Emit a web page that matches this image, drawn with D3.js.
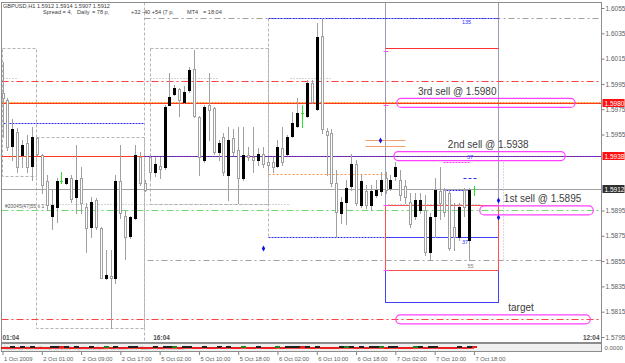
<!DOCTYPE html>
<html>
<head>
<meta charset="utf-8">
<script src="https://cdn.jsdelivr.net/npm/d3@7/dist/d3.min.js"></script>
<style>
  body { margin: 0; background: #fff; }
  svg { display: block; font-family: "Liberation Sans", Arial, sans-serif; }
</style>
</head>
<body>
<div id="chart"></div>
<script>
// ---- candle data, GBPUSD H1, bar 0 = 1 Oct, bar 96 = 7 Oct 18:00 ----
const openP  = [1.5988,1.5982,1.5946,1.5957,1.5939,1.5948,1.5930,1.5952,1.5939,1.5918,
                1.5891,1.5898,1.5918,1.5917,1.5921,1.5906,1.5921,1.5898,1.5882,1.5903,
                1.5881,1.5842,1.5843,1.5842,1.5918,1.5891,1.5875,1.5889,1.5937,1.5917,
                1.5937,1.5925,1.5930,1.5929,1.5978,1.5987,1.5991,1.5981,1.5990,1.6007,
                1.5969,1.5935,1.5978,1.5976,1.5941,1.5953,1.5923,1.5952,1.5943,1.5921,
                1.5939,1.5937,1.5935,1.5940,1.5933,1.5933,1.5930,1.5944,1.5940,1.5954,
                1.5962,1.5972,1.5970,1.5996,1.5975,1.6033,1.5958,1.5956,1.5917,1.5893,
                1.5902,1.5914,1.5932,1.5899,1.5910,1.5899,1.5907,1.5910,1.5921,1.5913,
                1.5922,1.5919,1.5914,1.5902,1.5891,1.5895,1.5895,1.5862,1.5891,1.5910,
                1.5911,1.5909,1.5882,1.5874,1.5911,1.5872,1.5912];
const highP  = [1.6012,1.5984,1.5967,1.5960,1.5951,1.5955,1.5961,1.5953,1.5940,1.5923,
                1.5911,1.5921,1.5925,1.5921,1.5923,1.5947,1.5929,1.5901,1.5906,1.5905,
                1.5882,1.5864,1.5864,1.5923,1.5947,1.5895,1.5891,1.5947,1.5941,1.5919,
                1.5939,1.5937,1.5937,1.5978,1.6004,1.5994,1.5992,1.5993,1.6008,1.6022,
                1.5970,1.5978,1.6004,1.5977,1.5951,1.5956,1.5961,1.5959,1.5961,1.5961,
                1.5945,1.5961,1.5944,1.5945,1.5937,1.5937,1.5951,1.5961,1.5955,1.5973,
                1.5984,1.5978,1.5998,1.5998,1.6043,1.6047,1.5960,1.5959,1.5927,1.5906,
                1.5919,1.5940,1.5935,1.5923,1.5915,1.5915,1.5919,1.5925,1.5925,1.5923,
                1.5933,1.5927,1.5919,1.5909,1.5909,1.5909,1.5907,1.5893,1.5921,1.5929,
                1.5913,1.5911,1.5901,1.5901,1.5913,1.5913,1.5914];
const lowP   = [1.5953,1.5943,1.5935,1.5925,1.5929,1.5925,1.5919,1.5939,1.5909,1.5895,
                1.5880,1.5886,1.5917,1.5916,1.5902,1.5893,1.5893,1.5862,1.5874,1.5880,
                1.5842,1.5841,1.5802,1.5838,1.5889,1.5857,1.5873,1.5888,1.5915,1.5910,
                1.5921,1.5922,1.5921,1.5928,1.5978,1.5986,1.5970,1.5980,1.5989,1.5969,
                1.5923,1.5933,1.5951,1.5940,1.5935,1.5923,1.5903,1.5939,1.5901,1.5919,
                1.5935,1.5925,1.5931,1.5929,1.5927,1.5925,1.5929,1.5931,1.5939,1.5953,
                1.5961,1.5961,1.5969,1.5980,1.5974,1.5956,1.5923,1.5914,1.5874,1.5885,
                1.5884,1.5911,1.5899,1.5898,1.5897,1.5895,1.5906,1.5907,1.5909,1.5911,
                1.5919,1.5903,1.5901,1.5882,1.5888,1.5893,1.5860,1.5857,1.5874,1.5888,
                1.5891,1.5864,1.5864,1.5872,1.5891,1.5856,1.5907];
const closeP = [1.5984,1.5945,1.5959,1.5929,1.5947,1.5929,1.5953,1.5940,1.5915,1.5899,
                1.5899,1.5918,1.5918,1.5921,1.5904,1.5919,1.5901,1.5881,1.5902,1.5882,
                1.5842,1.5844,1.5842,1.5918,1.5893,1.5874,1.5890,1.5939,1.5917,1.5911,
                1.5925,1.5932,1.5928,1.5977,1.5985,1.5992,1.5982,1.5989,1.6006,1.5970,
                1.5937,1.5977,1.5974,1.5941,1.5948,1.5925,1.5951,1.5941,1.5921,1.5939,
                1.5937,1.5935,1.5940,1.5932,1.5931,1.5929,1.5945,1.5933,1.5953,1.5964,
                1.5972,1.5972,1.5996,1.5981,1.6032,1.5959,1.5955,1.5917,1.5894,1.5902,
                1.5913,1.5932,1.5901,1.5918,1.5899,1.5910,1.5911,1.5919,1.5911,1.5919,
                1.5929,1.5907,1.5906,1.5884,1.5903,1.5903,1.5862,1.5890,1.5911,1.5901,
                1.5894,1.5865,1.5874,1.5898,1.5898,1.5911,1.5912];

// ---- axis labels (1.5935 and 1.5915 sit under the price tags) ----
const priceTicks = [1.6055,1.6035,1.6015,1.5995,1.5975,1.5955,1.5895,1.5875,1.5855,1.5835,1.5815,1.5795];
const timeBars   = [0,8,16,24,32,40,48,56,64,72,80,88,96];
const timeLabels = ["1 Oct 2009","2 Oct 01:00","2 Oct 09:00","2 Oct 17:00","5 Oct 02:00","5 Oct 10:00",
                    "5 Oct 18:00","6 Oct 02:00","6 Oct 10:00","6 Oct 18:00","7 Oct 02:00","7 Oct 10:00","7 Oct 18:00"];

// ---- horizontal levels across the whole chart ----
const redDashDotLevels   = [1.5997, 1.5809];
const redSolidLevels     = [1.5980, 1.5938];
const orangeDotLevels    = [1.5981];
const greenDashDotLevels = [1.5895];
const bidLevel           = 1.5912;

// ---- partial levels: [price, from bar, to bar] ----
const grayDashDotSegs = [[1.6047, 28.8, 122], [1.5856, 29.4, 122]];
const blueDotSegs     = [[1.6047, 54.1, 100.9], [1.5964, 0, 28.8], [1.5938, 28.8, 122],
                         [1.5874, 54.1, 77.9], [1.5911, 89.7, 95.2]];
const blueDashSegs    = [[1.5921, 93.8, 96.7]];
const pinkDotSegs     = [[1.5933, 89.7, 95.2]];
const orangeDotSegs   = [[1.5924, 54.1, 77.9]];
const grayDotSegs     = [[1.5900, 0.5, 58.5], [1.5900, 78.5, 97], [1.6000, 0, 3],
                         [1.6000, 30, 43.7], [1.6000, 58.5, 66.7]];
const redSegs         = [[1.6023, 77.9, 100.9]];
const orangeSegs      = [[1.5951, 73.8, 82], [1.5946, 73.8, 82]];

// ---- session boxes: [from bar, to bar, high, low] ----
const dayBoxes = [[-0.1, 6.8, 1.6023, 1.5922], [6.8, 28.8, 1.5953, 1.5802], [30.0, 54.1, 1.6023, 1.5900]];
const redBox   = [77.9, 100.9, 1.5899, 1.5848];
const blueBox  = [77.9, 100.9, 1.5874, 1.5823];
const sessionLines = [28.8];
const rangeLines   = [77.9, 100.9];

// ---- order notes: [text, price, from bar, to bar, text bar] ----
const orderNotes = [
  ["3rd sell @ 1.5980", 1.5980, 80.3, 116.6, 84.6],
  ["2nd sell @ 1.5938", 1.5938, 79.7, 114.6, 90.7],
  ["1st sell @ 1.5895", 1.5895, 97.2, 120.3, 102.1],
  ["target",            1.5809, 80.1, 119.7, 103.0]
];
const diamonds  = [[53.1, 1.5865], [76.9, 1.5951], [100.9, 1.5903], [100.9, 1.5890]];
const pinkTicks = [1.6021, 1.5978, 1.5899, 1.5848];
const smallTags = [["135", 94.5, 1.6044, "#3030ff"], ["37", 95.2, 1.5937, "#3030ff"],
                   ["37", 94.2, 1.5870, "#3030ff"], ["55", 95.3, 1.5851, "#808080"]];

const W = 625, H = 363;
const plot = {left: 1.5, right: 601.5, top: 2.5, bottom: 342.5};

const svg = d3.select("#chart").append("svg").attr("width", W).attr("height", H);

const x = d3.scaleLinear().domain([0, 96]).range([2.5, 473.9]);
const y = d3.scaleLinear().domain([1.5795, 1.6055]).range([337, 8]);
const px = v => Math.round(x(v)) + 0.5;
const py = v => Math.round(y(v)) + 0.5;

const levels = svg.append("g");

function hline(price, x1, x2, color, dash, w) {
  levels.append("line")
    .attr("x1", x1).attr("x2", x2)
    .attr("y1", py(price)).attr("y2", py(price))
    .attr("stroke", color).attr("stroke-width", w || 1)
    .attr("stroke-dasharray", dash || null);
}

// session boxes (gray dashed)
dayBoxes.forEach(b => {
  levels.append("rect")
    .attr("x", px(b[0])).attr("y", py(b[2]))
    .attr("width", px(b[1]) - px(b[0])).attr("height", py(b[3]) - py(b[2]))
    .attr("fill", "none").attr("stroke", "#b4b4b4").attr("stroke-dasharray", "3,2");
});
sessionLines.forEach(b => {
  levels.append("line").attr("x1", px(b)).attr("x2", px(b))
    .attr("y1", plot.top).attr("y2", plot.bottom)
    .attr("stroke", "#b4b4b4").attr("stroke-dasharray", "3,2");
});
// 6 Oct box side, 7 Oct range side
levels.append("line").attr("x1", px(54.1)).attr("x2", px(54.1))
  .attr("y1", py(1.6047)).attr("y2", py(1.5874)).attr("stroke", "#b4b4b4").attr("stroke-dasharray", "3,2");
levels.append("line").attr("x1", px(101.9)).attr("x2", px(101.9))
  .attr("y1", py(1.5933)).attr("y2", py(1.5856)).attr("stroke", "#b4b4b4").attr("stroke-dasharray", "1,2");

// range lines of 7 Oct
rangeLines.forEach(b => {
  levels.append("line").attr("x1", px(b)).attr("x2", px(b))
    .attr("y1", plot.top).attr("y2", py(blueBox[3]))
    .attr("stroke", "#9c9cb0");
});

grayDotSegs.forEach(s => hline(s[0], px(s[1]), px(s[2]), "#a8a8a8", "1,2"));
grayDashDotSegs.forEach(s => hline(s[0], px(s[1]), Math.min(px(s[2]), plot.right), "#a0a0a0", "6,3,2,3"));
redDashDotLevels.forEach(p => hline(p, plot.left, plot.right, "#ff4040", "7,3,2,3"));
orangeDotLevels.forEach(p => hline(p, plot.left, plot.right, "#ff9020", "2,1"));
redSolidLevels.forEach(p => hline(p, plot.left, plot.right, "#ff3a20"));
greenDashDotLevels.forEach(p => hline(p, plot.left, plot.right, "#70d870", "7,3,2,3"));
hline(bidLevel, plot.left, plot.right, "#a0a0a8");
blueDotSegs.forEach(s => hline(s[0], px(s[1]), Math.min(px(s[2]), plot.right), "#2828ff", "2,1"));
blueDashSegs.forEach(s => hline(s[0], px(s[1]), px(s[2]), "#2828ff", "3,2"));
pinkDotSegs.forEach(s => hline(s[0], px(s[1]), px(s[2]), "#ff40ff", "2,1"));
orangeDotSegs.forEach(s => hline(s[0], px(s[1]), px(s[2]), "#ff9040", "2,2"));
redSegs.forEach(s => hline(s[0], px(s[1]), px(s[2]), "#ff3030"));
orangeSegs.forEach(s => hline(s[0], px(s[1]), px(s[2]), "#f0a070"));

// red and blue target boxes
[[blueBox, "#4040ff"], [redBox, "#ff5050"]].forEach(([b, c]) => {
  levels.append("rect")
    .attr("x", px(b[0])).attr("y", py(b[2]))
    .attr("width", px(b[1]) - px(b[0])).attr("height", py(b[3]) - py(b[2]))
    .attr("fill", "none").attr("stroke", c);
});

// ---- candles ----
const bars = openP.map((o, i) => ({i, o, h: highP[i], l: lowP[i], c: closeP[i]}));
const cg = svg.append("g");
cg.selectAll(".wick").data(bars).enter().append("line")
  .attr("x1", d => px(d.i)).attr("x2", d => px(d.i))
  .attr("y1", d => Math.round(y(d.h))).attr("y2", d => Math.round(y(d.l)) + 1)
  .attr("stroke", d => d.o === d.c ? "#30e030" : "#a0a0a0");

cg.selectAll(".body").data(bars.filter(d => d.o !== d.c)).enter().append("rect")
  .attr("x", d => d.c > d.o ? Math.round(x(d.i)) - 1 : Math.round(x(d.i)) - 0.5)
  .attr("y", d => d.c > d.o ? Math.round(y(Math.max(d.o, d.c))) : Math.round(y(Math.max(d.o, d.c))) + 0.5)
  .attr("width", d => d.c > d.o ? 3 : 2)
  .attr("height", d => {
    const hgt = Math.round(y(Math.min(d.o, d.c))) - Math.round(y(Math.max(d.o, d.c)));
    return d.c > d.o ? Math.max(1, hgt + 1) : Math.max(1, hgt);
  })
  .attr("fill", d => d.c > d.o ? "#000" : "#fff")
  .attr("stroke", d => d.c > d.o ? "none" : "#a0a0a0");

cg.selectAll(".doji").data(bars.filter(d => d.o === d.c)).enter().append("line")
  .attr("x1", d => Math.round(x(d.i)) - 1).attr("x2", d => Math.round(x(d.i)) + 2)
  .attr("y1", d => py(d.o)).attr("y2", d => py(d.o))
  .attr("stroke", "#30e030");

// ---- markers ----
const mg = svg.append("g");
mg.selectAll("path").data(diamonds).enter().append("path")
  .attr("transform", d => `translate(${px(d[0])},${py(d[1])})`)
  .attr("d", d3.symbol().type(d3.symbolDiamond).size(10))
  .attr("fill", "#1010e0");
mg.selectAll(".pt").data(pinkTicks).enter().append("line")
  .attr("x1", px(77.9) - 2).attr("x2", px(77.9) + 3)
  .attr("y1", d => py(d)).attr("y2", d => py(d))
  .attr("stroke", "#ff50ff");
mg.selectAll("text").data(smallTags).enter().append("text")
  .attr("x", d => x(d[1])).attr("y", d => y(d[2]) + 2)
  .attr("font-size", 5.5).attr("fill", d => d[3]).attr("text-anchor", "middle")
  .text(d => d[0]);

// order notes
const ng = svg.append("g");
orderNotes.forEach(n => {
  const cy = y(n[1]);
  ng.append("rect")
    .attr("x", x(n[2])).attr("y", cy - 4.5)
    .attr("width", x(n[3]) - x(n[2])).attr("height", 9)
    .attr("rx", 4.5).attr("ry", 4.5)
    .attr("fill", "none").attr("stroke", "#ff40ff").attr("stroke-width", 1.2);
  ng.append("text")
    .attr("x", x(n[4])).attr("y", cy - 8)
    .attr("font-size", 10).attr("fill", "#404040")
    .text(n[0]);
});

ng.append("text").attr("x", 5).attr("y", y(1.5897))
  .attr("font-size", 5).attr("fill", "#606060").text("#20045(47)55 s 1");

// ---- frame and sub window ----
svg.append("rect").attr("x", plot.left).attr("y", plot.top)
  .attr("width", plot.right - plot.left).attr("height", plot.bottom - plot.top)
  .attr("fill", "none").attr("stroke", "#8c8c8c");
const sub = svg.append("g");
sub.append("rect").attr("x", plot.left).attr("y", 343.5)
  .attr("width", plot.right - plot.left).attr("height", 8)
  .attr("fill", "#efefef").attr("stroke", "#8c8c8c");
sub.append("text").attr("x", 4).attr("y", 349.5).attr("font-size", 5).attr("fill", "#b8b8b8")
  .text("Made by: ForexTrend (c) 2009  http://www.forex-tsd.com   MTF Bars Trend indicator");
sub.selectAll(".ib").data(bars).enter().append("rect")
  .attr("x", d => Math.round(x(d.i)) - 2).attr("y", d => d.c >= d.o ? 346 : 347)
  .attr("width", 5).attr("height", 2)
  .attr("fill", d => d.c > d.o ? (d.i % 7 === 0 ? "#208020" : "#202020") : "#e02020");
sub.append("line").attr("x1", plot.left).attr("x2", x(96)).attr("y1", 348.5).attr("y2", 348.5)
  .attr("stroke", "#ff2020").attr("stroke-width", 0.8);

// ---- price axis ----
const yAxis = svg.append("g").attr("transform", `translate(${plot.right},0)`)
  .call(d3.axisRight(y).tickValues(priceTicks).tickFormat(d3.format(".4f")).tickSize(3));
yAxis.select(".domain").remove();
yAxis.selectAll("line").attr("stroke", "#808080");
yAxis.selectAll("text").attr("font-size", 6.5).attr("fill", "#606060").attr("x", 4)
  .attr("font-family", "'Liberation Sans', Arial, sans-serif");

// price tags
const tags = [[1.5980, "#ff1010", "#fff"], [1.5938, "#ff1010", "#fff"], [bidLevel, "#303030", "#fff"]];
tags.forEach(t => {
  const cy = Math.round(y(t[0]));
  svg.append("rect").attr("x", plot.right + 1).attr("y", cy - 4).attr("width", 22).attr("height", 8).attr("fill", t[1]);
  svg.append("text").attr("x", plot.right + 3).attr("y", cy + 2.5)
    .attr("font-size", 6.5).attr("fill", t[2]).text(d3.format(".4f")(t[0]));
});

// sub window scale text
svg.append("text").attr("x", plot.right + 3).attr("y", 349.5).attr("font-size", 6).attr("fill", "#606060").text("0.0000");

// ---- time axis ----
const xAxis = svg.append("g").attr("transform", "translate(0,352)")
  .call(d3.axisBottom(x).tickValues(timeBars).tickFormat((d, i) => timeLabels[i]).tickSize(3));
xAxis.select(".domain").remove();
xAxis.selectAll("line").attr("stroke", "#808080");
xAxis.selectAll("text").attr("font-size", 5.8).attr("fill", "#606060")
  .attr("text-anchor", "start").attr("x", 1).attr("dy", "0.5em")
  .attr("font-family", "'Liberation Sans', Arial, sans-serif");

// session clock labels
[["01:04", 0], ["16:04", 30.7]].forEach(s => {
  svg.append("text").attr("x", x(s[1])).attr("y", 340).attr("font-size", 6.5)
    .attr("font-weight", "bold").attr("fill", "#505050").text(s[0]);
});
svg.append("text").attr("x", plot.right - 2).attr("y", 340).attr("font-size", 6.5)
  .attr("font-weight", "bold").attr("fill", "#505050").attr("text-anchor", "end").text("12:04");

// ---- info header ----
const info = svg.append("g").attr("font-size", 5.6).attr("fill", "#404040");
info.append("text").attr("x", 3).attr("y", 8).text("GBPUSD,H1   1.5912 1.5914 1.5907 1.5912");
[["Spread = 4,", 43], ["Daily", 77], ["= 78 p,", 92], ["+32 -40 +54 (7 p,", 131], ["MT4", 187], ["= 18:04", 203]]
  .forEach(t => info.append("text").attr("x", t[1]).attr("y", 14).text(t[0]));
</script>
</body>
</html>
